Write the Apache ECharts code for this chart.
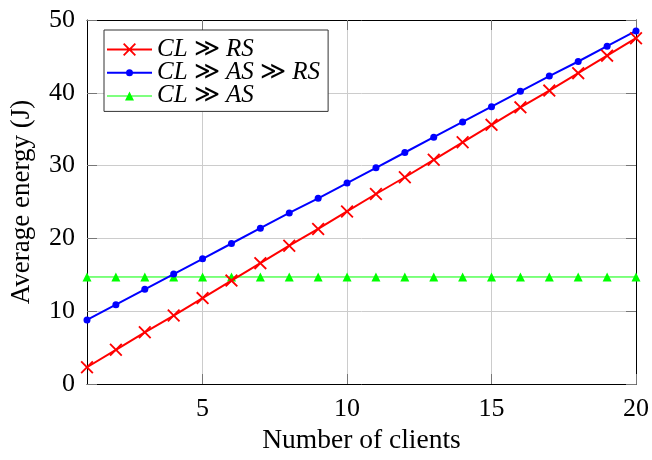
<!DOCTYPE html>
<html>
<head>
<meta charset="utf-8">
<script src="https://cdn.jsdelivr.net/npm/echarts@6/dist/echarts.min.js"></script>
<style>
  html, body { margin: 0; padding: 0; background: #ffffff; }
  #chart { width: 652px; height: 460px; }
</style>
</head>
<body>
<div id="chart"></div>
<script>
// Number of clients on the x axis
const clients = [1, 2, 3, 4, 5, 6, 7, 8, 9, 10, 11, 12, 13, 14, 15, 16, 17, 18, 19, 20];

// Tick positions
const xTicks = [5, 10, 15, 20];
const yTicks = [0, 10, 20, 30, 40, 50];

// Series names (rendered in math italic)
const names = ['CL ≫ RS', 'CL ≫ AS ≫ RS', 'CL ≫ AS'];

// Average energy (J) per configuration
const energyClRs   = [2.3, 4.7, 7.1, 9.4, 11.8, 14.2, 16.6, 19.0, 21.3, 23.7, 26.1, 28.4, 30.8, 33.2, 35.6, 38.0, 40.3, 42.7, 45.1, 47.5];
const energyClAsRs = [8.8, 10.9, 13.0, 15.1, 17.2, 19.3, 21.4, 23.5, 25.5, 27.6, 29.7, 31.8, 33.9, 36.0, 38.1, 40.2, 42.3, 44.3, 46.4, 48.5];
const energyClAs   = [14.7, 14.7, 14.7, 14.7, 14.7, 14.7, 14.7, 14.7, 14.7, 14.7, 14.7, 14.7, 14.7, 14.7, 14.7, 14.7, 14.7, 14.7, 14.7, 14.7];

const pairs = (xs, ys) => xs.map((x, i) => [x, ys[i]]);

const FONT = "'Liberation Serif', 'Times New Roman', serif";
const crossPath = 'path://M0,1L1,0L5,4L9,0L10,1L6,5L10,9L9,10L5,6L1,10L0,9L4,5Z';

// Legend keys: a short line sample with the series marker at its centre (45 px wide)
const legendIcons = [
  'path://M0,6L45,6L45,8L0,8Z' +
    'M16,1.8L17.3,0.5L22.5,5.7L27.7,0.5L29,1.8L23.8,7L29,12.2L27.7,13.5L22.5,8.3L17.3,13.5L16,12.2L21.2,7Z',
  'path://M0,6L45,6L45,8L0,8Z' +
    'M19,7A3.5,3.5 0 1,1 26,7A3.5,3.5 0 1,1 19,7Z',
  'path://M0,6.5L45,6.5L45,7.5L0,7.5Z' +
    'M22.5,2.5L27,11.5L18,11.5Z'
];

const chart = echarts.init(document.getElementById('chart'), null, { renderer: 'canvas' });

const tickStyle = { show: true, inside: true, length: 10, lineStyle: { color: '#777777', width: 1 } };

function makeX(position, showLabels) {
  return {
    type: 'value', position: position, min: 1, max: 20,
    axisLine: { show: true, onZero: false, lineStyle: { color: '#000000', width: 1 } },
    axisTick: Object.assign({ customValues: xTicks }, tickStyle),
    axisLabel: { show: showLabels, customValues: xTicks, margin: 12, color: '#000000', fontFamily: FONT, fontSize: 26 },
    splitLine: { show: showLabels, lineStyle: { color: '#cccccc', width: 1 } },
    name: showLabels ? 'Number of clients' : '',
    nameLocation: 'middle', nameGap: 43,
    nameTextStyle: { color: '#000000', fontFamily: FONT, fontSize: 27.5 }
  };
}

function makeY(position, showLabels) {
  return {
    type: 'value', position: position, min: 0, max: 50, interval: 10,
    axisLine: { show: true, onZero: false, lineStyle: { color: '#000000', width: 1 } },
    axisTick: Object.assign({}, tickStyle),
    axisLabel: { show: showLabels, margin: 12, color: '#000000', fontFamily: FONT, fontSize: 26 },
    splitLine: { show: showLabels, lineStyle: { color: '#cccccc', width: 1 } },
    name: showLabels ? 'Average energy (J)' : '',
    nameLocation: 'middle', nameGap: 52,
    nameTextStyle: { color: '#000000', fontFamily: FONT, fontSize: 27 }
  };
}

chart.setOption({
  backgroundColor: '#ffffff',
  animation: false,
  grid: { left: 86.7, right: 12.7, top: 20, bottom: 70, containLabel: false },
  xAxis: [makeX('bottom', true), makeX('top', false)],
  yAxis: [makeY('left', true), makeY('right', false)],
  legend: {
    data: names.map((n, i) => ({ name: n, icon: legendIcons[i] })),
    orient: 'vertical',
    left: 104, top: 30,
    padding: [7, 8, 3, 3],
    itemWidth: 45, itemHeight: 14, itemGap: -1.8,
    symbolKeepAspect: true,
    backgroundColor: '#ffffff',
    borderColor: '#333333', borderWidth: 1,
    formatter: name => name.split(' ≫ ').map(s => '{i|' + s + '}').join('{r| ≫ }'),
    textStyle: {
      color: '#000000', fontFamily: FONT, fontSize: 25, lineHeight: 20,
      rich: {
        i: { fontStyle: 'italic', fontFamily: FONT, fontSize: 25, lineHeight: 20, color: '#000000' },
        r: { fontFamily: FONT, fontSize: 25, lineHeight: 20, color: '#000000' }
      }
    }
  },
  series: [
    {
      name: names[0], type: 'line', data: pairs(clients, energyClRs),
      symbol: crossPath, symbolSize: 13,
      itemStyle: { color: '#ff0000' }, lineStyle: { color: '#ff0000', width: 2 },
      z: 3
    },
    {
      name: names[1], type: 'line', data: pairs(clients, energyClAsRs),
      symbol: 'circle', symbolSize: 7,
      itemStyle: { color: '#0000ff' }, lineStyle: { color: '#0000ff', width: 2 },
      z: 3
    },
    {
      name: names[2], type: 'line', data: pairs(clients, energyClAs),
      symbol: 'triangle', symbolSize: 9,
      itemStyle: { color: '#00ff00' }, lineStyle: { color: '#00ff00', width: 1 },
      z: 2
    }
  ]
});
</script>
</body>
</html>
